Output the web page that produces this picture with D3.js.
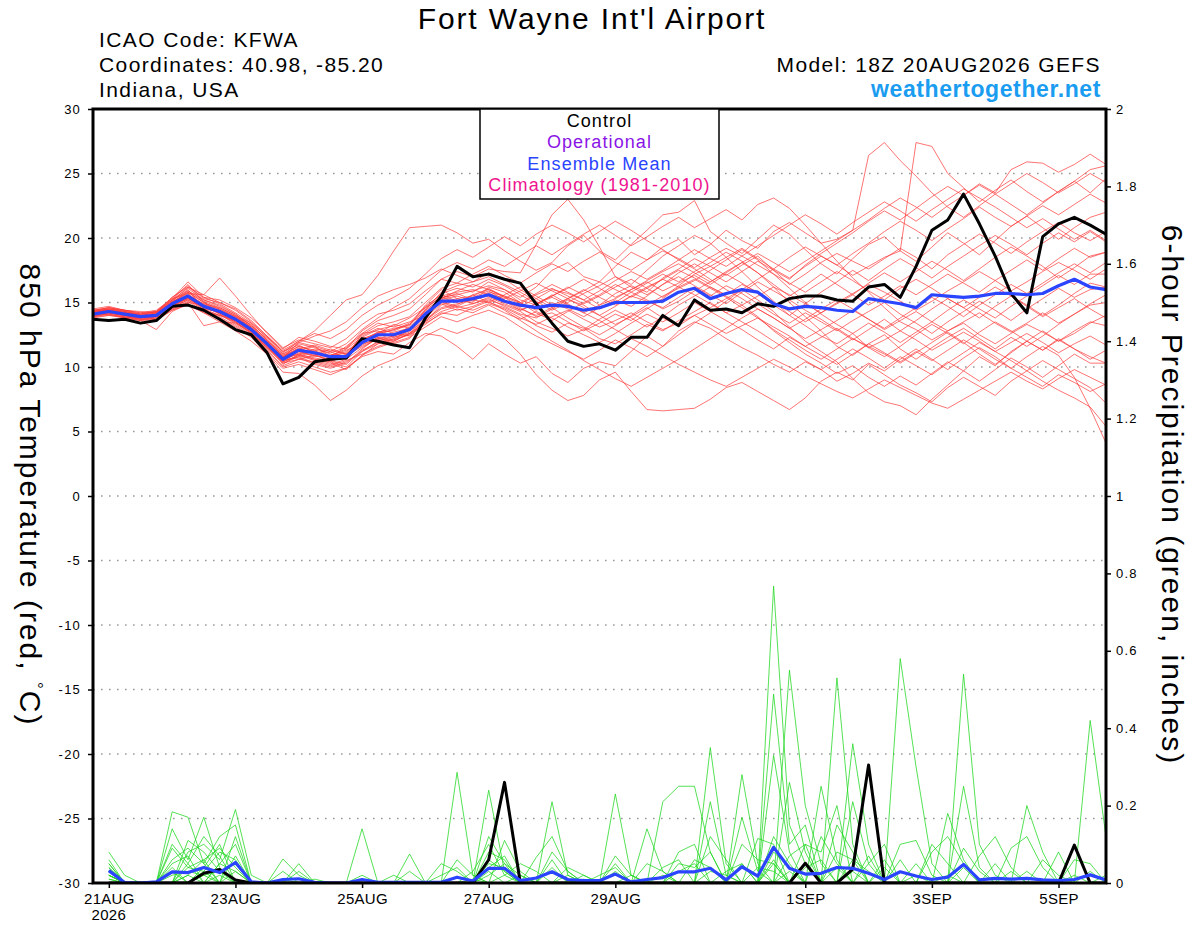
<!DOCTYPE html>
<html>
<head>
<meta charset="utf-8">
<script src="https://cdn.jsdelivr.net/npm/d3@7"></script>
<style>
  body { margin: 0; background: #fff; }
  svg { display: block; font-family: "Liberation Sans", Arial, Helvetica, sans-serif; }
</style>
</head>
<body>
<svg id="chart" width="1200" height="927"></svg>
<script>
// GEFS run 18Z 20AUG2026, 6-hourly steps (temperature from hour 0, precip from hour 6)
const runStart = Date.UTC(2026, 7, 20, 18);
const stepHours = 6;
const nSteps = 64;

// x-axis labels
const dateTicks = [
  Date.UTC(2026, 7, 21), Date.UTC(2026, 7, 23), Date.UTC(2026, 7, 25), Date.UTC(2026, 7, 27),
  Date.UTC(2026, 7, 29), Date.UTC(2026, 8, 1), Date.UTC(2026, 8, 3), Date.UTC(2026, 8, 5)
];
const tempTicks = [-30, -25, -20, -15, -10, -5, 0, 5, 10, 15, 20, 25, 30];
const precipTicks = [0, 0.2, 0.4, 0.6, 0.8, 1, 1.2, 1.4, 1.6, 1.8, 2];
const legendItems = ["Control", "Operational", "Ensemble Mean", "Climatology (1981-2010)"];
const legendColors = ["#000000", "#8a14e6", "#2a44ff", "#ee1490"];

// 850 hPa temperature, control run (black)
const controlTemp = [
  13.7,13.6,13.7,13.4,13.6,14.7,14.8,14.4,13.7,12.9,12.5,11.1,8.7,
  9.2,10.4,10.6,10.7,12.2,12.0,11.7,11.5,13.8,15.5,17.8,17.0,17.2,
  16.8,16.5,14.9,13.4,12.0,11.6,11.8,11.3,12.3,12.3,14.0,13.2,15.2,
  14.4,14.5,14.2,14.9,14.7,15.3,15.5,15.5,15.2,15.1,16.2,16.4,15.4,
  17.8,20.6,21.4,23.4,21.1,18.6,15.7,14.2,20.1,21.1,21.6,21.0,20.3
];

// 850 hPa temperature, ensemble mean (blue)
const meanTemp = [
  14.1,14.3,14.1,13.9,14.0,14.9,15.5,14.7,14.3,13.7,12.9,11.8,10.6,
  11.3,11.1,10.8,10.8,11.9,12.5,12.5,12.9,14.1,15.1,15.1,15.3,15.6,
  15.1,14.8,14.6,14.8,14.7,14.4,14.6,15.0,15.0,15.0,15.1,15.8,16.1,
  15.3,15.7,16.0,15.8,14.9,14.5,14.7,14.6,14.4,14.3,15.3,15.1,14.9,
  14.6,15.6,15.5,15.4,15.5,15.7,15.7,15.6,15.7,16.3,16.8,16.2,16.0
];

// 850 hPa temperature, ensemble members (red)
const memberTemps = [
  [14.3,14.5,14.3,14.0,14.2,15.0,15.9,15.1,14.6,14.0,13.1,12.0,10.9, 11.6,11.2,10.9,11.4,12.3,12.9,13.2,13.8,14.6,15.7,16.1,15.8,16.6, 16.0,15.4,16.2,17.5,18.1,17.0,16.6,17.8,18.9,18.3,19.3,19.9,18.7, 19.5,20.6,19.8,19.2,20.5,21.2,20.4,19.6,19.9,20.6,26.4,27.4,26.0, 24.8,23.5,22.4,21.6,22.5,23.4,22.6,21.8,22.7,23.6,24.4,25.3,25.6],
  [14.0,14.2,13.9,13.7,13.8,14.6,15.2,14.4,13.9,13.2,12.4,11.2,10.0, 10.4,10.0,9.6,9.9,10.8,11.2,11.0,11.9,12.6,12.4,11.6,10.6,11.8, 11.0,10.3,10.8,9.5,8.8,9.9,10.4,10.1,11.2,12.4,11.6,12.8,13.5, 13.0,12.2,11.5,10.9,10.2,9.6,10.4,9.8,8.9,9.5,10.3,9.7,10.6, 11.4,10.6,9.8,10.7,11.5,10.8,9.9,9.2,8.5,9.4,8.8,8.1,8.7],
  [14.2,14.4,14.2,14.1,14.3,15.4,16.3,15.3,15.0,14.5,13.6,12.4,11.1, 12.0,12.8,14.0,15.2,15.6,17.1,19.0,20.8,20.9,21.0,20.4,19.6,19.9, 19.0,18.2,17.5,18.1,19.4,20.2,19.0,18.3,19.5,20.6,21.8,22.0,22.9, 20.5,19.6,18.8,19.9,21.0,20.3,19.1,18.0,17.2,18.4,19.5,20.1,19.0, 18.2,19.3,20.4,19.6,18.7,19.8,20.9,21.7,20.8,19.9,20.8,21.6,22.0],
  [13.9,14.1,13.8,13.6,12.9,14.3,14.9,14.2,13.5,12.8,12.0,11.0,9.6, 9.5,8.6,7.4,8.2,9.3,10.1,10.6,11.2,12.4,13.0,12.6,13.1,12.7, 12.2,11.0,9.4,8.2,7.4,7.8,9.0,9.6,8.1,6.7,6.6,6.7,6.8, 7.5,8.4,8.8,8.1,7.4,6.7,7.6,8.9,9.6,9.0,10.2,9.4,8.6, 8.0,7.3,8.4,9.2,8.5,7.8,8.9,9.7,10.5,9.8,9.1,8.4,7.2],
  [14.4,14.6,14.4,14.2,14.4,15.3,15.7,15.6,16.9,15.5,14.0,12.6,11.4, 12.3,12.0,11.6,11.4,12.8,13.6,14.0,14.5,15.6,16.8,17.4,17.0,17.6, 17.4,17.3,19.5,21.8,23.0,21.4,19.3,17.0,16.4,17.5,18.6,19.4,20.2, 19.6,18.5,17.4,16.2,15.1,14.0,13.2,12.4,11.8,12.6,11.5,10.8,11.6, 12.5,13.3,12.6,11.8,12.7,13.5,12.8,12.0,11.3,12.1,11.4,10.8,10.3],
  [14.1,14.2,14.0,13.8,13.9,14.8,15.6,14.9,14.1,13.4,12.7,11.5,10.4, 10.9,10.5,10.2,10.6,11.5,12.2,12.0,12.6,13.9,15.4,15.6,15.9,16.3, 16.0,15.2,14.8,15.6,14.9,14.2,14.8,15.7,16.3,15.8,16.9,17.6,18.4, 17.8,17.1,17.9,18.6,17.5,16.4,17.2,18.1,18.8,18.2,17.6,18.4,19.2, 18.5,17.6,18.7,19.5,20.3,19.6,18.8,19.7,20.5,21.2,20.4,19.8,20.5],
  [14.0,14.3,14.2,13.9,14.1,15.1,16.0,14.5,14.0,13.8,13.0,11.9,10.2, 11.0,11.4,11.2,10.7,12.0,12.7,13.0,13.2,14.8,16.0,15.3,15.5,16.1, 15.4,14.6,13.9,14.2,13.5,12.8,13.4,14.1,13.6,14.5,15.3,16.2,16.8, 16.1,15.4,14.6,13.8,12.9,12.1,11.3,10.6,11.4,12.2,11.6,11.0,10.3, 11.1,11.9,12.7,11.9,11.0,10.2,11.1,12.0,12.8,12.0,12.8,13.5,13.2],
  [14.3,14.4,14.1,14.0,13.9,14.7,15.3,14.6,14.4,13.9,13.3,12.1,10.8, 11.5,11.0,10.4,10.0,11.2,12.0,12.4,12.8,13.6,14.5,14.8,15.6,15.0, 15.6,16.2,15.5,14.8,15.3,14.6,14.0,14.7,15.5,15.1,14.6,15.4,16.2, 15.5,16.3,15.7,14.9,14.1,13.4,14.2,13.5,12.8,13.6,14.3,15.0,14.1, 13.4,12.6,13.5,14.3,15.1,14.4,13.6,14.5,15.3,16.1,15.4,16.0,16.2],
  [14.2,14.3,14.0,13.8,14.0,15.0,15.8,15.0,14.2,13.5,12.6,11.4,10.3, 10.8,11.3,10.6,10.9,12.4,13.0,12.6,12.4,13.5,14.8,15.2,15.0,16.2, 15.8,15.0,14.2,13.6,14.3,15.0,15.6,16.4,15.8,15.2,14.5,15.1,15.9, 16.6,17.4,18.1,17.3,16.2,15.0,13.9,12.8,11.6,10.9,11.8,12.5,11.4, 10.6,11.5,12.3,13.0,12.2,11.4,12.3,11.6,12.4,13.3,14.1,14.8,15.0],
  [13.8,14.0,13.9,13.6,13.8,14.5,15.1,14.3,14.0,13.6,12.8,11.6,10.5, 11.2,10.8,10.9,11.3,11.8,12.1,12.7,13.0,14.2,15.0,14.6,14.9,15.3, 14.7,14.1,13.8,14.5,15.2,14.8,14.0,13.3,13.9,14.6,13.8,13.2,14.0, 14.6,15.3,16.0,15.2,14.3,13.1,12.0,11.2,10.4,9.1,8.0,7.3,7.0, 6.3,7.5,8.6,9.7,10.8,10.1,11.2,12.0,11.3,12.2,11.4,10.6,11.3],
  [14.5,14.7,14.4,14.3,14.2,15.2,16.1,15.2,14.8,14.1,13.2,12.2,11.0, 11.8,11.5,11.0,10.8,12.6,13.4,13.1,13.5,14.0,15.3,15.9,16.4,16.0, 15.4,14.9,15.6,16.1,15.5,14.9,15.5,16.2,16.8,16.1,15.4,16.3,17.2, 17.8,18.5,19.2,18.4,17.6,16.9,17.8,18.6,17.9,17.1,17.8,18.5,19.0, 27.4,27.1,25.0,23.9,22.8,23.7,24.5,23.6,22.8,23.6,24.4,23.5,24.6],
  [14.1,14.3,14.1,13.9,14.0,14.9,15.4,14.5,14.3,13.7,12.9,11.7,10.6, 10.7,10.2,9.9,10.3,11.4,12.3,11.8,12.2,13.8,14.9,14.4,14.7,15.2, 14.8,14.3,13.5,13.0,12.4,12.9,13.7,14.4,13.8,13.1,13.9,14.8,15.5, 16.2,15.5,14.8,13.9,12.8,11.9,11.0,10.3,9.5,10.1,9.2,8.5,9.3, 8.6,9.5,10.4,9.7,8.9,9.8,10.7,10.0,9.2,10.1,11.0,10.3,10.3],
  [14.0,14.1,13.8,13.9,13.7,14.4,15.0,14.8,14.5,13.9,13.1,12.0,10.9, 11.4,11.7,11.3,11.0,12.1,12.5,12.9,13.4,14.7,15.6,15.1,15.4,15.9, 15.2,14.5,14.0,14.6,15.3,16.0,15.4,14.8,15.5,16.2,16.8,17.5,16.9, 16.2,15.6,16.4,15.8,15.0,14.3,13.5,14.2,14.9,15.6,14.8,15.5,16.3, 15.6,16.4,17.2,16.5,15.8,16.7,17.5,18.3,17.5,18.4,19.2,18.5,18.9],
  [14.2,14.4,14.2,14.0,14.1,15.0,15.6,14.7,14.1,13.3,12.5,11.3,10.1, 10.6,10.4,10.1,10.5,11.0,11.6,12.0,12.6,13.4,14.1,14.5,14.2,14.8, 14.2,13.7,14.3,13.8,13.1,12.5,11.9,12.6,13.4,14.1,13.5,14.2,15.0, 14.3,13.6,12.9,12.1,11.4,12.3,11.6,10.9,10.2,11.0,11.8,11.1,10.4, 11.2,10.5,11.3,12.1,11.4,10.6,9.9,10.8,11.6,10.9,9.2,6.8,4.1],
  [14.4,14.5,14.3,14.1,14.3,15.1,15.5,14.6,14.2,13.8,13.0,11.8,10.7, 11.9,12.4,12.8,13.5,14.6,15.5,16.0,16.4,16.9,17.6,17.1,16.6,17.3, 16.8,16.0,15.3,14.6,13.8,13.1,12.5,13.2,14.0,14.8,15.5,16.1,16.7, 17.5,18.3,19.1,18.3,17.2,16.1,15.0,14.1,13.3,12.6,13.4,12.7,11.9, 12.7,13.5,14.4,15.2,14.5,13.8,14.7,15.5,16.3,17.1,16.4,17.2,17.2],
  [13.9,14.2,14.0,13.7,13.9,14.7,15.3,14.9,14.6,14.0,13.4,12.3,11.2, 11.7,11.1,10.7,11.6,12.6,12.8,12.3,12.7,14.5,15.5,15.8,16.0,15.6, 15.1,14.4,14.9,15.5,16.2,15.6,14.8,15.3,16.0,16.6,15.9,16.5,17.1, 16.4,17.2,16.5,15.7,14.8,14.0,14.9,15.8,16.6,17.5,16.7,17.6,18.4, 17.7,16.9,17.8,18.6,19.4,20.2,19.5,18.7,19.6,20.4,19.7,20.5,19.7],
  [14.1,14.4,14.1,13.9,14.1,15.0,15.7,14.8,14.3,13.6,12.8,11.6,10.4, 10.9,10.6,10.3,9.8,10.9,11.8,12.2,12.5,13.7,14.6,14.9,15.2,15.0, 14.6,14.0,13.2,12.7,13.4,13.0,12.2,11.8,12.5,13.3,12.8,13.6,14.3, 15.0,14.2,13.5,12.8,12.0,11.2,10.5,9.8,10.6,11.4,10.7,9.9,10.8, 10.1,9.4,10.3,11.1,11.9,11.2,10.5,9.7,8.9,8.2,7.6,6.9,5.4],
  [14.3,14.2,14.0,13.8,14.0,14.8,15.4,14.4,14.0,13.5,12.7,11.5,10.5, 11.1,10.9,11.4,11.0,11.9,12.4,12.5,13.1,14.3,15.2,15.5,15.1,15.8, 15.5,15.0,14.4,15.0,14.5,13.9,14.6,15.2,14.7,15.5,16.4,17.0,16.3, 15.6,14.9,15.8,16.6,15.9,15.2,14.4,13.7,12.9,12.1,12.9,13.7,12.8, 13.6,14.5,15.3,14.6,13.8,14.7,15.5,14.8,14.0,14.8,15.7,16.5,16.2],
  [14.0,14.3,14.2,14.0,13.9,14.6,15.2,14.6,14.4,13.8,13.1,11.9,10.8, 11.3,11.6,10.8,11.2,12.2,12.6,13.3,13.0,14.0,15.1,14.7,15.3,15.5, 15.0,14.7,15.3,16.0,15.7,15.2,14.5,15.0,15.8,16.5,17.2,16.6,17.4, 18.1,18.9,18.2,17.3,16.4,15.5,16.3,17.2,16.4,15.6,16.5,17.3,16.6, 17.4,18.2,17.5,16.7,17.6,18.5,19.3,18.6,17.8,16.9,17.7,18.6,18.9],
  [14.2,14.5,14.2,13.9,14.2,15.2,16.4,15.0,14.4,13.7,12.9,11.8,10.6, 11.0,10.7,10.5,10.8,11.7,12.3,12.1,12.9,14.4,15.8,16.3,16.6,17.0, 16.4,15.8,15.1,14.4,15.0,15.7,16.3,17.0,16.2,15.6,16.4,17.3,18.0, 17.3,16.6,17.4,18.2,17.5,16.8,17.9,18.8,19.6,20.4,21.3,22.1,21.4, 22.3,23.2,24.0,23.3,24.2,23.5,25.3,25.9,25.8,25.1,25.7,26.5,25.7],
  [14.3,14.6,14.4,14.1,14.3,15.3,16.6,15.4,14.9,14.2,13.4,12.3,11.2, 11.9,11.6,11.2,11.8,12.9,13.8,14.6,15.3,16.4,17.5,18.1,17.6,18.3, 17.8,18.6,19.4,18.7,19.5,20.3,21.0,20.2,19.4,20.1,20.9,21.6,20.8, 21.5,22.2,21.4,22.6,23.1,22.3,21.0,19.6,18.2,16.9,15.8,14.6,13.5, 12.9,12.1,12.8,13.4,12.5,11.8,12.6,13.3,12.7,12.0,12.6,13.4,14.0],
  [14.0,14.1,13.9,13.7,13.6,14.4,14.8,14.2,13.8,13.1,12.3,11.0,9.9, 10.2,9.8,9.4,9.9,10.9,11.5,11.9,12.3,13.1,13.9,13.5,14.0,14.4, 13.9,13.1,12.4,11.8,11.2,10.6,11.3,12.1,11.5,10.8,11.6,12.5,13.4, 14.2,15.1,16.0,16.8,17.6,18.5,19.3,18.6,17.9,18.8,19.6,20.5,21.3, 20.6,19.8,20.7,21.5,22.4,21.6,20.9,21.7,22.5,21.8,22.6,23.4,22.7],
  [14.2,14.4,14.3,14.0,14.1,15.1,16.2,15.4,15.2,14.6,13.8,12.7,11.5, 12.1,11.8,11.5,12.2,13.3,14.1,14.4,14.9,15.9,16.8,16.5,17.2,17.8, 17.1,16.5,17.3,18.0,17.4,18.2,18.9,18.1,17.5,18.3,19.0,18.4,17.7, 18.5,19.2,18.6,17.9,17.2,16.5,15.8,16.6,17.4,16.7,15.9,15.2,16.1, 16.8,16.1,15.3,14.6,15.4,16.2,15.5,14.7,13.9,14.6,15.3,14.5,13.8],
  [14.1,14.3,14.0,13.8,13.9,14.9,15.5,14.7,14.2,13.6,12.8,11.7,10.7, 11.0,10.6,10.4,10.9,11.6,12.2,12.4,12.9,14.0,15.0,15.3,14.9,15.4, 14.9,14.4,14.9,15.4,14.8,14.2,13.6,12.9,12.2,11.6,10.9,10.2,9.6, 9.0,8.5,9.2,9.9,10.6,10.0,9.3,8.7,8.1,7.6,8.3,9.0,8.4, 7.8,7.2,6.8,7.5,8.2,8.9,9.6,8.9,8.3,9.1,9.8,9.2,8.6],
  [14.3,14.4,14.2,14.0,14.2,15.0,15.8,15.0,14.5,13.9,13.0,11.9,10.8, 11.4,11.0,10.8,11.1,12.1,12.7,12.8,13.3,14.6,15.4,15.0,15.6,16.0, 15.5,15.0,15.7,16.4,15.8,15.2,15.9,16.7,17.4,16.8,17.5,18.3,19.1, 18.4,17.8,18.6,19.4,20.2,21.0,21.8,21.1,20.3,21.2,22.0,22.8,22.1, 21.3,22.2,23.0,23.8,23.1,22.4,21.6,20.8,21.5,20.7,19.9,20.6,19.8],
  [13.9,14.0,13.8,13.6,13.7,14.5,15.0,13.2,13.5,13.4,12.6,11.5,10.3, 10.6,10.9,10.5,10.2,11.3,11.9,12.3,12.6,13.5,14.3,14.7,14.4,14.9, 14.5,13.8,13.3,13.9,14.4,13.7,13.1,13.6,14.2,13.5,12.9,13.4,14.0, 13.3,12.6,13.2,13.8,13.1,12.4,11.6,12.3,13.0,12.2,11.5,12.1,12.8, 12.1,11.3,12.0,12.7,12.0,11.2,11.9,12.6,11.9,11.1,11.8,12.4,11.7],
  [14.4,14.6,14.3,14.1,14.2,15.4,16.2,15.6,15.0,14.4,13.5,12.4,11.3, 12.0,12.6,12.2,12.9,14.0,14.8,15.4,16.1,17.2,18.4,19.1,18.5,19.3, 20.1,19.4,20.3,21.0,20.4,19.7,20.5,21.3,20.6,19.8,19.1,18.3,17.6, 16.8,16.0,15.3,14.5,13.8,13.0,12.2,12.9,13.6,14.4,13.7,13.0,13.8, 14.6,15.4,14.7,13.9,14.8,15.6,16.4,15.7,16.5,17.3,18.0,17.3,18.1],
  [14.2,14.3,14.1,13.9,14.0,14.8,15.3,14.6,14.2,13.6,12.9,11.8,10.7, 11.2,10.9,10.6,11.0,11.9,12.6,12.9,13.3,14.4,15.3,15.7,15.2,15.7, 15.3,15.9,16.5,15.9,15.3,15.9,16.6,16.0,15.4,16.1,16.8,16.2,15.6, 14.9,14.2,14.8,15.5,16.2,15.6,14.9,14.2,15.0,15.7,16.4,15.8,15.1, 14.4,15.1,15.9,16.6,17.4,16.7,15.9,16.6,17.4,18.1,17.5,16.8,17.6],
  [14.1,14.2,14.0,13.7,13.9,14.7,15.4,14.7,14.2,13.5,12.7,11.6,10.5, 10.8,10.3,10.0,10.4,11.2,11.8,12.1,12.5,13.3,14.2,14.0,14.6,15.1, 14.4,13.6,12.8,12.0,11.3,10.5,9.8,9.1,8.5,9.2,9.9,10.6,11.4, 12.2,13.0,13.8,14.5,13.8,13.0,13.7,14.5,15.2,14.5,13.7,12.9,13.6, 14.3,13.5,12.8,13.5,14.2,13.4,12.7,13.4,14.2,13.4,14.1,14.9,15.6],
  [14.3,14.5,14.4,14.2,14.3,15.2,15.9,15.2,14.7,14.1,13.2,12.1,11.0, 11.6,11.3,11.1,11.5,12.5,13.2,13.5,13.9,15.0,16.1,16.5,16.2,16.8, 16.3,15.6,14.9,15.5,16.1,16.8,16.1,15.4,16.0,16.7,17.4,18.0,17.3, 16.6,17.3,18.1,18.8,18.1,17.4,18.2,19.0,19.8,20.6,21.4,22.3,23.1, 22.4,21.6,22.5,23.3,24.1,23.4,24.2,25.0,24.3,23.5,24.2,25.0,24.3]
];

// 6-hour precipitation (inches), control run (black), hours 6..384
const controlPrecip = [
  0,0,0,0,0,0,0.025,0.035,0.008,0,0,0,0,0,0,0,
  0,0,0,0,0,0,0,0,0.06,0.26,0,0,0,0,0,0,
  0,0,0,0,0,0,0,0,0,0,0,0,0.051,0,0,0.036,
  0.305,0,0,0,0,0,0,0,0,0,0,0,0,0.098,0,0
];

// 6-hour precipitation, ensemble mean (blue)
const meanPrecip = [
  0.032,0.001,0,0.003,0.029,0.027,0.04,0.027,0.053,0.003,0,0.009,0.011,0.002,0,0,
  0.009,0.002,0.002,0.002,0.002,0.002,0.015,0.005,0.038,0.038,0.006,0.013,0.029,0.009,0.006,0.006,
  0.023,0.003,0.009,0.014,0.029,0.029,0.038,0.008,0.042,0.018,0.092,0.038,0.023,0.025,0.04,0.038,
  0.025,0.009,0.029,0.018,0.009,0.015,0.048,0.008,0.012,0.01,0.012,0.008,0.006,0.009,0.021,0.008
];

// 6-hour precipitation, ensemble members (green)
const memberPrecips = [
  [0.08,0.02,0,0,0.184,0.17,0.05,0,0.03,0,0,0,0,0,0,0, 0,0,0,0,0,0,0.286,0.02,0,0,0,0,0.21,0.02,0,0, 0,0,0,0,0,0,0,0,0,0,0.767,0.15,0.05,0,0,0, 0,0,0.58,0.3,0.05,0,0,0,0,0,0,0,0,0,0,0],
  [0.05,0,0,0,0.14,0.06,0.17,0.04,0,0,0,0,0,0,0,0, 0.14,0,0,0,0,0,0,0,0.24,0.03,0,0,0,0,0,0, 0.23,0.02,0,0,0,0,0,0,0,0,0,0.55,0.2,0.05,0,0, 0,0,0,0,0,0,0.54,0.1,0.02,0,0,0,0,0,0,0],
  [0.03,0,0,0,0,0.08,0.1,0.06,0.19,0.02,0,0.062,0.02,0,0,0, 0,0,0,0,0,0,0,0,0,0.11,0.03,0,0,0,0,0, 0,0,0,0.21,0.25,0.25,0.08,0,0,0,0,0,0,0,0.53,0.1, 0,0,0,0,0,0,0,0,0,0,0,0,0,0,0.42,0.12],
  [0.04,0,0,0,0.06,0.09,0.05,0.12,0.15,0,0,0,0,0,0,0, 0,0,0,0.075,0,0.05,0.03,0,0,0,0,0,0,0,0,0, 0,0,0,0,0,0,0.35,0.05,0,0,0.488,0.1,0.15,0,0,0, 0,0,0,0,0,0,0,0,0,0,0.2,0.08,0,0,0,0],
  [0.02,0,0,0,0,0.11,0.08,0.03,0.05,0,0,0,0.05,0,0,0, 0,0,0,0,0,0,0,0,0.12,0.05,0.02,0,0,0,0,0, 0,0,0,0,0,0,0,0,0.28,0.05,0,0,0,0,0,0.36, 0.1,0,0,0,0,0,0.25,0.04,0,0,0,0,0,0,0,0],
  [0.06,0,0,0,0.09,0.04,0.06,0.09,0.04,0,0,0,0,0,0,0, 0,0,0,0,0,0,0,0,0,0,0,0.066,0.12,0.03,0,0, 0,0,0,0,0,0,0.21,0.02,0,0,0.33,0.08,0,0.25,0.06,0, 0,0,0,0,0.08,0.12,0.05,0,0,0,0,0,0,0,0,0],
  [0.01,0,0,0,0.03,0,0.04,0.1,0,0,0,0.03,0,0,0,0, 0.02,0,0,0,0,0,0,0,0.08,0.06,0,0,0,0,0.01,0, 0.05,0,0.14,0.03,0,0,0,0,0,0.115,0.1,0,0,0,0,0.21, 0.05,0,0,0,0,0,0,0,0,0.09,0.12,0.04,0,0,0,0],
  [0.02,0,0,0,0,0.05,0.12,0.07,0,0,0,0,0,0.01,0,0, 0,0,0,0.03,0,0,0,0,0.05,0.04,0,0,0,0.04,0.02,0, 0,0,0,0,0.08,0.1,0,0,0.17,0.03,0,0,0.1,0.08,0.2,0, 0,0.06,0,0,0,0,0,0,0,0,0,0,0,0.06,0.05,0],
  [0.03,0,0,0,0.05,0.07,0,0.05,0.1,0,0,0,0,0,0,0, 0,0,0.02,0,0,0,0,0.03,0.1,0.02,0,0,0.08,0.03,0,0, 0,0,0,0,0,0,0.12,0.06,0,0,0,0.26,0.08,0,0,0, 0.05,0.1,0,0,0,0.18,0.06,0,0,0,0,0,0.08,0,0,0],
  [0.05,0,0,0,0,0,0.03,0.08,0.06,0,0,0,0.03,0,0,0, 0,0,0,0,0,0,0.06,0.02,0,0,0,0,0.06,0,0,0, 0.07,0.02,0,0,0.05,0.04,0.08,0,0,0,0.12,0.05,0,0,0.15,0.08, 0,0,0,0,0,0,0,0.07,0.12,0.04,0,0,0,0,0,0],
  [0.02,0,0,0,0.02,0.03,0.02,0,0,0,0,0,0,0,0,0, 0,0,0,0,0,0,0,0,0.04,0.07,0,0,0,0,0,0, 0,0,0.05,0.03,0,0,0,0,0.1,0.06,0.05,0,0,0.12,0.05,0, 0,0,0.1,0.11,0.02,0,0,0,0,0,0,0.06,0.02,0,0,0],
  [0.03,0,0,0,0.04,0,0,0.05,0.03,0,0,0,0,0,0,0, 0,0,0,0,0,0,0,0,0,0.02,0.05,0.03,0,0,0.02,0, 0,0,0,0,0,0,0.03,0.02,0,0,0.08,0.04,0,0,0,0.06, 0.03,0,0,0,0,0,0.09,0.03,0,0,0,0,0,0,0.03,0],
  [0,0,0,0,0,0.02,0.06,0,0,0,0,0.01,0,0,0,0, 0,0,0,0,0,0.02,0.04,0,0,0,0,0,0.04,0,0,0, 0.03,0,0,0,0,0.06,0.04,0,0,0,0,0.07,0.1,0,0,0, 0,0.04,0,0,0.1,0.05,0,0,0,0,0,0,0,0.02,0,0],
  [0.04,0,0,0,0.1,0.05,0,0,0.07,0,0,0,0,0,0,0, 0,0,0,0,0,0,0,0,0.06,0.03,0,0,0,0,0,0, 0,0,0,0.04,0.06,0,0,0,0.05,0,0.06,0,0,0,0.08,0.06, 0,0,0,0.05,0,0,0,0,0.05,0,0,0,0,0,0,0.02],
  [0.03,0,0,0,0,0,0.02,0.03,0,0,0,0,0,0,0,0, 0.01,0,0,0,0,0,0,0,0,0,0.02,0,0,0,0,0.02, 0.04,0,0,0,0,0,0,0.03,0.05,0,0,0,0.04,0.06,0,0, 0.07,0,0,0,0,0,0.04,0,0,0,0.03,0,0,0,0,0],
  [0.02,0,0,0,0,0.04,0.03,0,0.12,0,0,0,0,0,0,0, 0,0,0,0,0,0,0,0,0.02,0.05,0,0,0,0.02,0,0, 0,0,0,0,0.03,0.05,0,0,0,0.04,0.03,0,0,0,0.04,0, 0,0,0.06,0,0,0,0,0,0,0.03,0,0,0,0,0,0],
  [0.01,0,0,0,0,0,0,0.02,0,0,0,0,0,0,0,0, 0,0,0,0,0,0,0,0,0.03,0,0,0,0,0,0,0, 0,0.02,0,0,0,0,0,0,0,0,0.05,0,0,0,0,0.03, 0,0,0,0,0,0.02,0,0,0,0,0,0,0,0,0,0],
  [0.02,0,0,0,0,0.02,0,0,0,0,0,0,0,0,0,0, 0,0,0,0,0,0,0,0.01,0,0,0,0,0,0,0,0, 0,0,0,0.02,0,0,0,0,0,0,0,0.03,0,0,0,0, 0,0,0,0.02,0,0,0,0,0,0,0,0,0.01,0,0,0]
];

const svg = d3.select("#chart");

const plotLeft = 93, plotRight = 1106, plotTop = 109, plotBottom = 883;

const timeAt = i => new Date(runStart + i * stepHours * 3600e3);

const x = d3.scaleUtc()
  .domain([timeAt(0), timeAt(nSteps)])
  .range([plotLeft, plotRight]);
const yT = d3.scaleLinear().domain([-30, 30]).range([plotBottom, plotTop]);
const yP = d3.scaleLinear().domain([0, 2]).range([plotBottom, plotTop]);

svg.append("rect").attr("width", 1200).attr("height", 927).attr("fill", "#fff");

// clip everything to the plot box
svg.append("defs").append("clipPath").attr("id", "plot-clip")
  .append("rect")
  .attr("x", plotLeft).attr("y", plotTop)
  .attr("width", plotRight - plotLeft).attr("height", plotBottom - plotTop);

// dotted grid at every 5 degrees
svg.append("g")
  .selectAll("line")
  .data(tempTicks.filter(d => d > -30 && d < 30))
  .join("line")
  .attr("x1", plotLeft).attr("x2", plotRight)
  .attr("y1", d => yT(d)).attr("y2", d => yT(d))
  .attr("stroke", "#9a9a9a")
  .attr("stroke-width", 1.3)
  .attr("stroke-dasharray", "1.6,6.4");

const plot = svg.append("g").attr("clip-path", "url(#plot-clip)");

const tempLine = d3.line()
  .x((d, i) => x(timeAt(i)))
  .y(d => yT(d));
// precip starts at hour 6
const precipLine = d3.line()
  .x((d, i) => x(timeAt(i + 1)))
  .y(d => yP(d));

plot.append("g")
  .selectAll("path")
  .data(memberTemps)
  .join("path")
  .attr("d", tempLine)
  .attr("fill", "none")
  .attr("stroke", "#ff3c3c")
  .attr("stroke-opacity", 0.8)
  .attr("stroke-width", 0.9);

plot.append("g")
  .selectAll("path")
  .data(memberPrecips)
  .join("path")
  .attr("d", precipLine)
  .attr("fill", "none")
  .attr("stroke", "#1fd81f")
  .attr("stroke-opacity", 0.85)
  .attr("stroke-width", 0.9);

// control + mean on top
plot.append("path").datum(controlTemp)
  .attr("d", tempLine).attr("fill", "none")
  .attr("stroke", "#000").attr("stroke-width", 3).attr("stroke-linejoin", "round");
plot.append("path").datum(meanTemp)
  .attr("d", tempLine).attr("fill", "none")
  .attr("stroke", "#2a44ff").attr("stroke-width", 3.2).attr("stroke-linejoin", "round");
plot.append("path").datum(controlPrecip)
  .attr("d", precipLine).attr("fill", "none")
  .attr("stroke", "#000").attr("stroke-width", 3).attr("stroke-linejoin", "round");
plot.append("path").datum(meanPrecip)
  .attr("d", precipLine).attr("fill", "none")
  .attr("stroke", "#2a44ff").attr("stroke-width", 3.2).attr("stroke-linejoin", "round");

// axes
const leftAxis = svg.append("g")
  .attr("transform", `translate(${plotLeft},0)`)
  .call(d3.axisLeft(yT).tickValues(tempTicks).tickSize(5).tickPadding(7)
    .tickFormat(d => String(d)));
const rightAxis = svg.append("g")
  .attr("transform", `translate(${plotRight},0)`)
  .call(d3.axisRight(yP).tickValues(precipTicks).tickSize(5).tickPadding(5)
    .tickFormat(d => Number.isInteger(d) ? String(d) : d3.format(".1f")(d)));
const bottomAxis = svg.append("g")
  .attr("transform", `translate(0,${plotBottom})`)
  .call(d3.axisBottom(x).tickValues(dateTicks.map(d => new Date(d))).tickSize(5).tickPadding(5)
    .tickFormat(d => d3.utcFormat("%-d%b")(d).toUpperCase()));

[leftAxis, rightAxis, bottomAxis].forEach(g => {
  g.select(".domain").remove();
  g.selectAll(".tick line").attr("stroke", "#000").attr("stroke-width", 1.5);
  g.selectAll("text").attr("fill", "#000").attr("font-family", "Liberation Sans, Arial, sans-serif");
});
leftAxis.selectAll("text").attr("font-size", 13).style("letter-spacing", "1.2px");
rightAxis.selectAll("text").attr("font-size", 13).style("letter-spacing", "1.2px");
bottomAxis.selectAll("text").attr("font-size", 15).style("letter-spacing", "0.3px");

svg.append("text")
  .attr("x", x(new Date(dateTicks[0]))).attr("y", 920)
  .attr("text-anchor", "middle").attr("font-size", 15)
  .style("letter-spacing", "0.3px")
  .text("2026");

// frame
svg.append("rect")
  .attr("x", plotLeft).attr("y", plotTop)
  .attr("width", plotRight - plotLeft).attr("height", plotBottom - plotTop)
  .attr("fill", "none").attr("stroke", "#000").attr("stroke-width", 3);

// legend box
const legend = svg.append("g");
legend.append("rect")
  .attr("x", 480).attr("y", plotTop)
  .attr("width", 239).attr("height", 90)
  .attr("fill", "#fff").attr("stroke", "#000").attr("stroke-width", 1.5);
legend.selectAll("text")
  .data(legendItems)
  .join("text")
  .attr("x", 599.5)
  .attr("y", (d, i) => 127 + i * 21.4)
  .attr("text-anchor", "middle")
  .attr("font-size", 18)
  .style("letter-spacing", "1.1px")
  .attr("fill", (d, i) => legendColors[i])
  .text(d => d);

// header
svg.append("text")
  .attr("x", 592).attr("y", 29)
  .attr("text-anchor", "middle").attr("font-size", 30)
  .style("letter-spacing", "1.9px")
  .text("Fort Wayne Int'l Airport");

const infoLines = ["ICAO Code: KFWA", "Coordinates: 40.98, -85.20", "Indiana, USA"];
svg.append("g").selectAll("text")
  .data(infoLines)
  .join("text")
  .attr("x", 99)
  .attr("y", (d, i) => 47 + i * 25)
  .attr("font-size", 21)
  .style("letter-spacing", "1.4px")
  .text(d => d);

svg.append("text")
  .attr("x", 1101).attr("y", 72)
  .attr("text-anchor", "end").attr("font-size", 21)
  .style("letter-spacing", "1.4px")
  .text("Model: 18Z 20AUG2026 GEFS");

svg.append("text")
  .attr("x", 1101).attr("y", 97)
  .attr("text-anchor", "end").attr("font-size", 23)
  .attr("font-weight", "bold")
  .attr("fill", "#1a9cf0")
  .style("letter-spacing", "0.6px")
  .text("weathertogether.net");

// axis titles, both read top to bottom
const leftTitle = svg.append("text")
  .attr("transform", "translate(20,495) rotate(90)")
  .attr("text-anchor", "middle").attr("font-size", 30)
  .style("letter-spacing", "2px");
leftTitle.append("tspan").text("850 hPa Temperature (red, ");
leftTitle.append("tspan").attr("font-size", 17).attr("dy", -11).text("°");
leftTitle.append("tspan").attr("dy", 11).text("C)");

svg.append("text")
  .attr("transform", "translate(1162,495) rotate(90)")
  .attr("text-anchor", "middle").attr("font-size", 30)
  .style("letter-spacing", "2px")
  .text("6-hour Precipitation (green, inches)");
</script>
</body>
</html>
